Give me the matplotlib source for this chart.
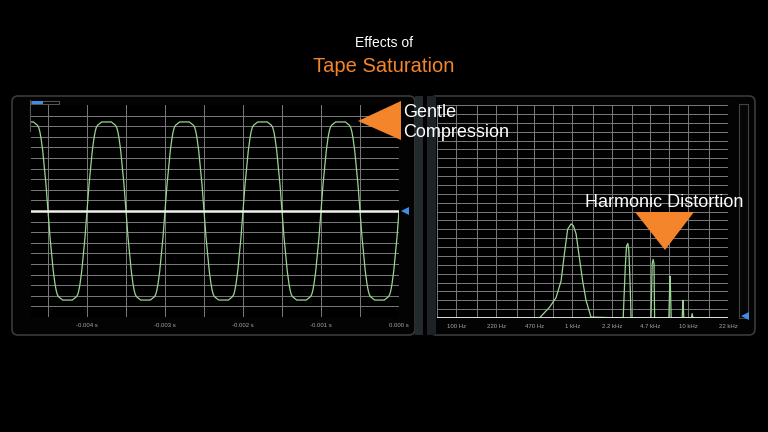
"""
Effects of Tape Saturation: scope trace of a saturated 1 kHz tone (left)
and its spectrum with odd harmonics (right).
"""

import matplotlib
matplotlib.use("Agg")
import numpy as np
import matplotlib.pyplot as plt
from matplotlib.patches import FancyBboxPatch, Polygon, Rectangle

# --- oscilloscope: one cycle of the clipped 1 kHz tone ---
cycle_ms = [0.0, 0.026, 0.047, 0.068, 0.090, 0.105, 0.120, 0.137, 0.154, 0.170, 0.188,
            0.312, 0.330, 0.346, 0.363, 0.380, 0.395, 0.410, 0.432, 0.453, 0.474,
            0.5, 0.526, 0.547, 0.568, 0.590, 0.605, 0.620, 0.637, 0.654, 0.670, 0.688,
            0.812, 0.830, 0.846, 0.863, 0.880, 0.895, 0.910, 0.932, 0.953, 0.974, 1.0]
cycle_div = [0.0, 2.5, 4.1, 5.7, 6.9, 7.5, 7.9, 8.1, 8.2, 8.3, 8.4,
             8.4, 8.3, 8.2, 8.1, 7.9, 7.5, 6.9, 5.7, 4.1, 2.5,
             0.0, -2.5, -4.1, -5.7, -6.9, -7.5, -7.9, -8.1, -8.2, -8.3, -8.4,
             -8.4, -8.3, -8.2, -8.1, -7.9, -7.5, -6.9, -5.7, -4.1, -2.5, 0.0]
cycle_starts_ms = [-5, -4, -3, -2, -1]

scope_ticks_ms = [-4, -3, -2, -1, 0]
scope_labels = ["-0.004 s", "-0.003 s", "-0.002 s", "-0.001 s", "0.000 s"]

# --- spectrum analyser trace (Hz, dB) ---
spec_hz = [68, 520, 634, 724, 800, 853, 911, 974, 1020, 1076, 1149, 1226, 1311, 1448,
           2745, 2860, 2930, 3010, 3070, 3150, 3210,
           4770, 4880, 4970, 5060, 5120,
           6800, 6900, 6960, 7020, 7120,
           8850, 8950, 9000, 9060, 9150,
           10650, 10800, 10950,
           22000]
spec_db = [-72, -72, -68.4, -65.1, -59.4, -50.4, -42.0, -40.2, -40.8, -43.5, -51.6, -59.4, -66.0, -71.7,
           -72, -54.9, -47.7, -46.8, -49.2, -60.6, -72,
           -72, -53.7, -52.2, -53.7, -72,
           -72, -62.0, -57.9, -62.0, -72,
           -72, -68.0, -66.0, -68.0, -72,
           -72, -70.5, -72,
           -72]

freq_ticks = [100, 220, 470, 1000, 2200, 4700, 10000, 22000]
freq_labels = ["100 Hz", "220 Hz", "470 Hz", "1 kHz", "2.2 kHz", "4.7 kHz", "10 kHz", "22 kHz"]
freq_grid = [68, 150, 330, 680, 1500, 3300, 6800, 15000]

ORANGE = "#F5852A"
GRID = "#7a7a7a"
TRACE = "#9bd593"
BLUE = "#3d8fe6"
FONT = ["Liberation Sans", "DejaVu Sans"]

W, H = 768, 432
fig = plt.figure(figsize=(W / 100, H / 100), dpi=100, facecolor="black")


def px_box(x0, y0, x1, y1):
    """Figure-fraction rect from pixel corners (top-left origin)."""
    return [x0 / W, 1 - y1 / H, (x1 - x0) / W, (y1 - y0) / H]


# background layer: panel frames, separator, meter
bg = fig.add_axes([0, 0, 1, 1], zorder=0)
bg.set_xlim(0, W)
bg.set_ylim(H, 0)
bg.axis("off")
bg.set_facecolor("black")
bg.add_patch(FancyBboxPatch((12, 96), 403, 239, boxstyle="round,pad=0,rounding_size=6",
                            facecolor="#030303", edgecolor="#3a3a3a", lw=1.2))
bg.add_patch(FancyBboxPatch((430, 96), 325, 239, boxstyle="round,pad=0,rounding_size=6",
                            facecolor="#030303", edgecolor="#3a3a3a", lw=1.2))
bg.add_patch(Rectangle((415, 96), 8, 239, facecolor="#232a2d", edgecolor="none"))
bg.add_patch(Rectangle((427, 96), 9, 239, facecolor="#1c2225", edgecolor="none"))
bg.add_patch(Rectangle((739, 104), 9, 214, facecolor="#050505", edgecolor="#444444", lw=0.8))
# small level widget in the scope corner
bg.plot([30, 30], [100, 131], color="#555555", lw=0.8)
bg.add_patch(Rectangle((31, 101), 28, 2.5, facecolor="none", edgecolor="#666666", lw=0.6))
bg.add_patch(Rectangle((32, 101), 11, 2.5, facecolor=BLUE, edgecolor="none"))

# --- left: oscilloscope ---
ax1 = fig.add_axes(px_box(31, 105, 399, 317), zorder=2)
ax1.set_facecolor("black")
t = np.concatenate([np.array(cycle_ms) + s for s in cycle_starts_ms])
v = np.concatenate([cycle_div for _ in cycle_starts_ms])
ax1.set_xlim(-4.718, 0)
ax1.set_ylim(-10, 10)
ax1.set_yticks(range(-10, 10))
ax1.set_xticks(np.arange(-4.5, 0.01, 0.5), minor=False)
for y in range(-10, 10):
    ax1.axhline(y, color=GRID, lw=0.7, zorder=1)
for x in np.arange(-4.5, 0.01, 0.5):
    ax1.axvline(x, color=GRID, lw=0.7, zorder=1)
ax1.plot(t, v, color=TRACE, lw=0.9, zorder=3)
ax1.axhline(0, color="#f2f2ea", lw=1.8, zorder=4)
ax1.set_xticks(scope_ticks_ms)
ax1.set_xticklabels(scope_labels, fontsize=4.3, color="#a8a8a8", family=FONT)
ax1.set_yticks([])
ax1.tick_params(axis="x", length=0, pad=4)
for sp in ax1.spines.values():
    sp.set_visible(False)

# --- right: spectrum ---
ax2 = fig.add_axes(px_box(437, 105, 728, 318), zorder=2)
ax2.set_facecolor("black")
ax2.set_xscale("log")
ax2.set_xlim(68, 22000)
ax2.set_ylim(-72, 0)
for y in range(-72, 1, 3):
    ax2.axhline(y, color=GRID, lw=0.7, zorder=1)
for f in freq_ticks + freq_grid:
    ax2.axvline(f, color=GRID, lw=0.7, zorder=1)
ax2.plot(spec_hz, spec_db, color=TRACE, lw=0.9, zorder=3)
ax2.axhline(-72, color="#e8e8e8", lw=1.3, zorder=4)
ax2.set_xticks(freq_ticks)
ax2.set_xticklabels(freq_labels, fontsize=4.3, color="#a8a8a8", family=FONT)
ax2.xaxis.set_minor_locator(matplotlib.ticker.NullLocator())
ax2.set_yticks([])
ax2.tick_params(axis="x", length=0, pad=4)
for sp in ax2.spines.values():
    sp.set_visible(False)

# foreground layer: titles, callouts, markers
fg = fig.add_axes([0, 0, 1, 1], zorder=5)
fg.set_xlim(0, W)
fg.set_ylim(H, 0)
fg.axis("off")
fg.patch.set_alpha(0)

fg.text(384, 43, "Effects of", ha="center", va="center", color="white", fontsize=10, family=FONT)
fg.text(384, 66, "Tape Saturation", ha="center", va="center", color=ORANGE, fontsize=14.5, family=FONT)

fg.add_patch(Polygon([(358, 121), (401, 101), (401, 140)], closed=True, facecolor=ORANGE, edgecolor="none"))
fg.text(403, 117, "Gentle", ha="left", va="baseline", color="white", fontsize=13, family=FONT)
fg.text(403, 137, "Compression", ha="left", va="baseline", color="white", fontsize=13, family=FONT)

fg.add_patch(Polygon([(635, 212), (694, 212), (665, 250)], closed=True, facecolor=ORANGE, edgecolor="none"))
fg.text(585, 207, "Harmonic Distortion", ha="left", va="baseline", color="white", fontsize=13, family=FONT)

fg.add_patch(Polygon([(401, 211), (409, 207), (409, 215)], closed=True, facecolor=BLUE, edgecolor="none"))
fg.add_patch(Polygon([(741, 316), (749, 312), (749, 320)], closed=True, facecolor=BLUE, edgecolor="none"))

fig.savefig("out.png", dpi=100, facecolor="black")
